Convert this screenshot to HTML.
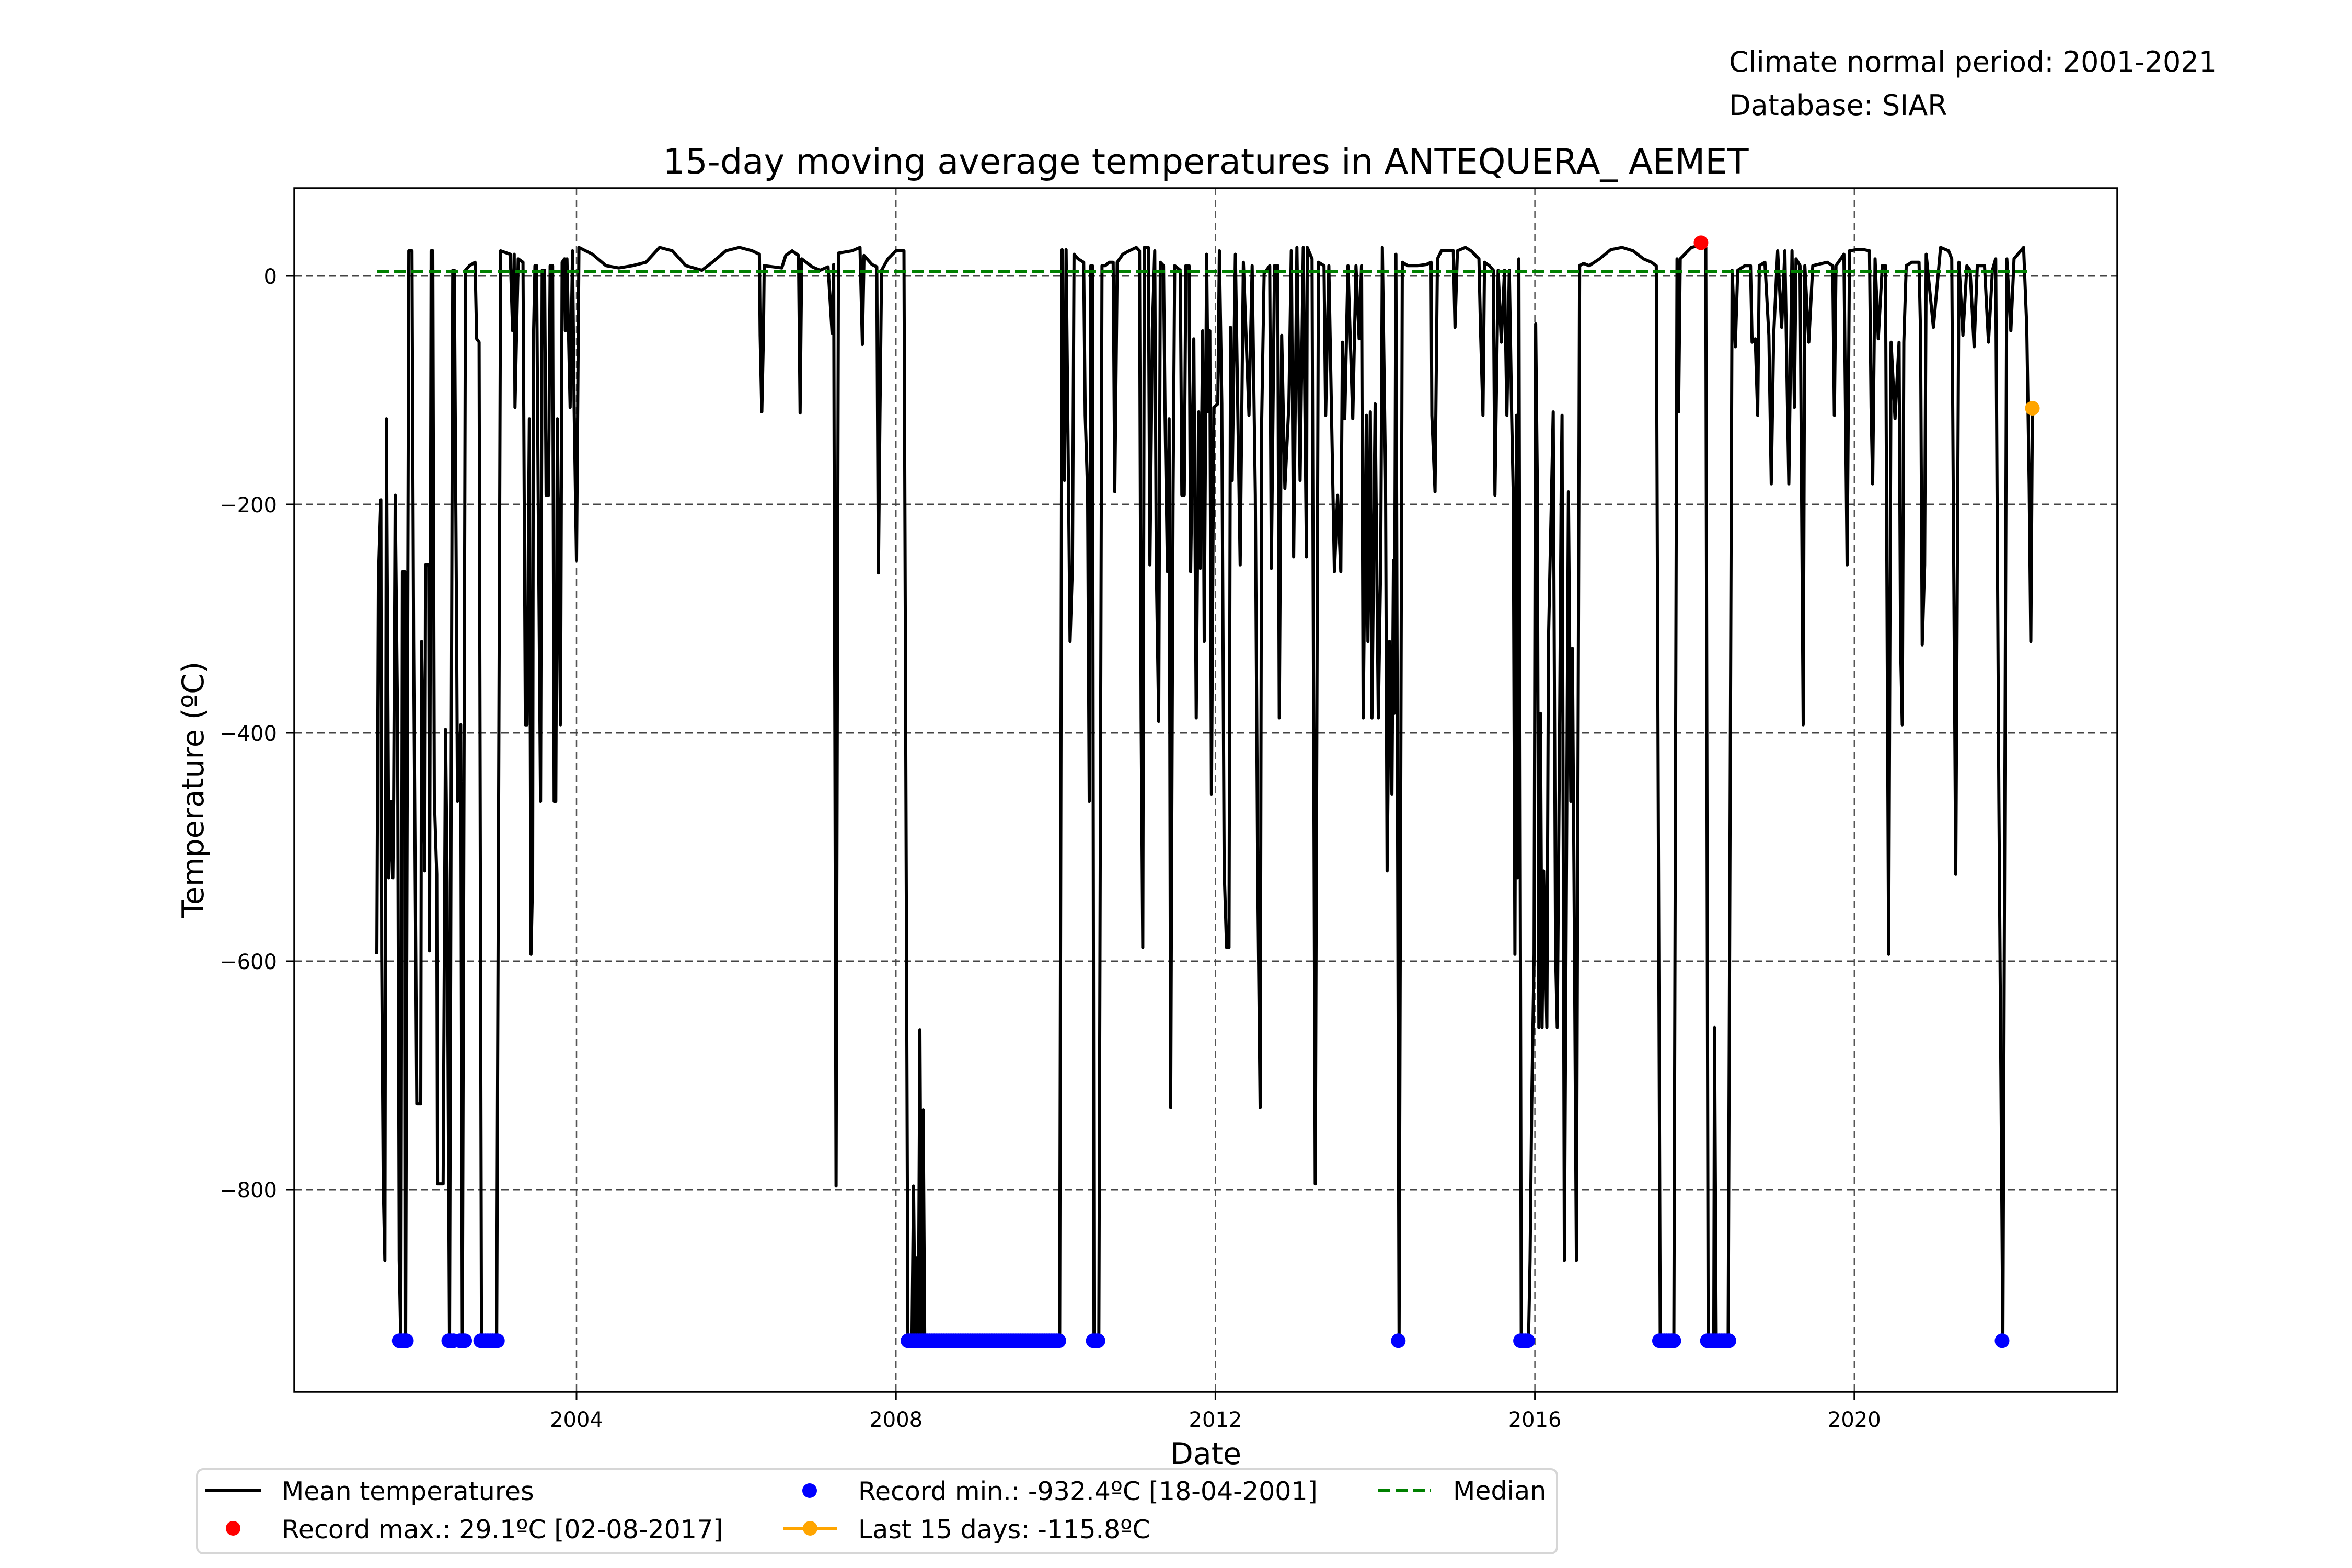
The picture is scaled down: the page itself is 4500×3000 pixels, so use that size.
<!DOCTYPE html>
<html><head><meta charset="utf-8"><style>
html,body{margin:0;padding:0;background:#fff;}
svg{display:block;font-family:"DejaVu Sans","Liberation Sans",sans-serif;}
</style></head><body>
<svg id="chart" width="4500" height="3000" viewBox="0 0 4500 3000" xmlns="http://www.w3.org/2000/svg">
<rect x="0" y="0" width="4500" height="3000" fill="#fff"/>
<text x="3308" y="137" font-size="54" fill="#000">Climate normal period: 2001-2021</text>
<text x="3308" y="220" font-size="54" fill="#000">Database: SIAR</text>
<text x="2307" y="332" font-size="67" text-anchor="middle" fill="#000">15-day moving average temperatures in ANTEQUERA_ AEMET</text>
<g id="grid"></g>
<g id="series"></g>
<rect x="563" y="360" width="3488" height="2303" fill="none" stroke="#000" stroke-width="3.5"/>
<g id="axes"></g>
<text x="2307" y="2801" font-size="57" text-anchor="middle">Date</text>
<text transform="translate(389,1511) rotate(-90)" font-size="57" text-anchor="middle">Temperature (ºC)</text>
<g>
<rect x="377" y="2811" width="2602" height="161" rx="12" fill="#fff" stroke="#d6d6d6" stroke-width="4"/>
<g>
<line x1="393" y1="2852" x2="499" y2="2852" stroke="#000" stroke-width="6"/>
<text x="539" y="2870" font-size="49">Mean temperatures</text></g>
<g>
<circle cx="446" cy="2924" r="14" fill="#ff0000"/>
<text x="539" y="2943" font-size="49">Record max.: 29.1ºC [02-08-2017]</text></g>
<g>
<circle cx="1549" cy="2852" r="14" fill="#0000ff"/>
<text x="1642" y="2870" font-size="49">Record min.: -932.4ºC [18-04-2001]</text></g>
<g>
<line x1="1499" y1="2924" x2="1601" y2="2924" stroke="#ffa500" stroke-width="6"/>
<circle cx="1550" cy="2924" r="14" fill="#ffa500"/>
<text x="1642" y="2943" font-size="49">Last 15 days: -115.8ºC</text></g>
<g>
<line x1="2637" y1="2851" x2="2737" y2="2851" stroke="#008000" stroke-width="6" stroke-dasharray="23,10"/>
<text x="2780" y="2869" font-size="49">Median</text></g>
</g>
</svg>
<script>
var xTickYears = [2004, 2008, 2012, 2016, 2020];
var xTickLabels = ["2004", "2008", "2012", "2016", "2020"];
var yTickValues = [0, -200, -400, -600, -800];
var yTickLabels = ["0", "\u2212200", "\u2212400", "\u2212600", "\u2212800"];
var medianValue = 3.7;
var medianRange = [2001.50, 2022.23];
var recordMaxDate = 2018.08;
var recordMaxValue = 29.1;
var recordMinValue = -932.4;
var lastDate = 2022.23;
var lastValue = -115.8;
var minRanges = [[2001.78,2001.87],[2002.40,2002.46],[2002.54,2002.60],[2002.80,2003.01],[2008.15,2010.06],[2010.47,2010.55],[2014.29,2014.31],[2015.82,2015.93],[2017.56,2017.75],[2018.16,2018.43],[2021.85,2021.87]];
var dates = [
2001.50,2001.52,2001.55,2001.56,2001.58,2001.60,2001.62,2001.65,2001.68,2001.70,
2001.71,2001.73,2001.76,2001.78,2001.80,2001.82,2001.85,2001.86,2001.90,2001.94,
2001.96,2001.98,2002.00,2002.05,2002.06,2002.10,2002.11,2002.15,2002.16,2002.18,
2002.20,2002.22,2002.25,2002.26,2002.33,2002.36,2002.38,2002.41,2002.45,2002.47,
2002.50,2002.51,2002.55,2002.57,2002.61,2002.66,2002.73,2002.75,2002.78,2002.81,
2003.00,2003.05,2003.17,2003.20,2003.22,2003.23,2003.25,2003.27,2003.33,2003.36,
2003.38,2003.41,2003.43,2003.45,2003.46,2003.48,2003.50,2003.52,2003.55,2003.57,
2003.60,2003.62,2003.65,2003.67,2003.70,2003.72,2003.74,2003.76,2003.78,2003.80,
2003.82,2003.85,2003.86,2003.88,2003.92,2003.95,2003.97,2004.00,
2004.03,2004.20,2004.37,2004.53,2004.70,2004.87,2005.04,2005.20,2005.37,2005.57,
2005.70,2005.87,2006.04,2006.20,2006.29,2006.30,2006.32,2006.34,2006.35,2006.57,
2006.62,2006.70,2006.78,2006.80,2006.82,2006.95,2007.05,2007.15,2007.20,2007.22,
2007.25,2007.28,2007.45,2007.55,2007.58,2007.60,2007.70,2007.76,2007.78,2007.80,
2007.82,2007.90,2008.00,2008.10,2008.15,2008.20,2008.22,2008.24,2008.26,2008.28,
2008.30,2008.32,2008.34,2008.36,2010.05,
2010.08,2010.11,2010.13,2010.16,2010.18,2010.21,2010.23,2010.28,2010.35,2010.37,
2010.40,2010.42,2010.44,2010.46,2010.48,2010.54,2010.58,2010.62,2010.67,2010.72,
2010.74,2010.77,2010.84,2010.92,2011.01,2011.05,2011.07,2011.09,2011.11,2011.16,
2011.18,2011.21,2011.24,2011.26,2011.29,2011.31,2011.35,2011.37,2011.40,2011.42,
2011.44,2011.47,2011.49,2011.56,2011.58,2011.61,2011.63,2011.67,2011.69,2011.73,
2011.76,2011.79,2011.81,2011.84,2011.86,2011.89,2011.91,2011.93,2011.95,2011.98,
2012.03,2012.05,2012.08,2012.11,2012.14,2012.17,2012.19,2012.21,2012.25,2012.31,
2012.35,2012.42,2012.46,2012.50,2012.53,2012.56,2012.58,2012.61,2012.68,2012.70,
2012.74,2012.78,2012.80,2012.83,2012.87,2012.92,2012.95,2012.98,2013.02,2013.06,
2013.10,2013.14,2013.15,2013.21,2013.25,2013.29,2013.36,2013.38,2013.42,2013.49,
2013.53,2013.57,2013.59,2013.62,2013.66,2013.72,2013.76,2013.80,2013.83,2013.85,
2013.89,2013.91,2013.94,2013.96,2014.00,2014.04,2014.07,2014.09,2014.13,2014.15,
2014.18,2014.21,2014.23,2014.24,2014.26,2014.30,2014.34,2014.41,2014.53,2014.64,
2014.70,2014.71,2014.75,2014.78,2014.83,2014.90,2014.98,2015.00,2015.03,2015.13,
2015.20,2015.30,2015.32,2015.35,2015.37,2015.43,2015.48,2015.50,2015.54,2015.58,
2015.62,2015.65,2015.68,2015.71,2015.73,2015.75,
2015.77,2015.78,2015.80,2015.83,2015.92,2015.94,2015.95,2015.96,2015.99,2016.01,
2016.03,2016.05,2016.07,2016.09,2016.11,2016.15,2016.17,2016.19,2016.21,2016.23,
2016.26,2016.28,2016.31,2016.33,2016.34,2016.37,2016.40,2016.42,2016.45,2016.47,
2016.49,2016.52,2016.56,2016.61,2016.68,2016.81,2016.95,2017.09,2017.23,2017.36,
2017.46,2017.52,2017.57,2017.74,2017.78,2017.80,2017.82,2017.96,2018.08,2018.14,
2018.17,2018.24,2018.25,2018.27,2018.42,2018.47,2018.51,2018.54,2018.63,2018.70,
2018.72,2018.76,2018.79,2018.81,2018.88,2018.93,2018.96,2018.99,2019.04,2019.09,
2019.13,2019.18,2019.22,2019.25,2019.27,2019.32,2019.36,2019.38,2019.43,2019.48,
2019.66,2019.73,2019.75,2019.77,2019.87,2019.91,2019.94,2020.03,2020.12,2020.19,
2020.21,2020.23,2020.26,2020.30,2020.35,2020.39,2020.43,2020.46,2020.51,2020.56,
2020.58,2020.60,2020.62,2020.65,2020.72,2020.81,2020.83,2020.85,2020.88,2020.90,
2020.99,2021.08,2021.18,2021.22,2021.27,2021.31,2021.36,2021.41,2021.45,2021.50,
2021.54,2021.63,2021.68,2021.73,2021.77,2021.81,2021.86,2021.91,2021.96,2022.00,
2022.12,2022.16,2022.19,2022.21,2022.23];
var temps = [
-594,-263,-196,-594,-795,-862,-125,-527,-460,-527,
-460,-192,-393,-862,-932.4,-259,-259,-932.4,22,22,
-320,-521,-725,-725,-320,-521,-253,-253,-591,22,
22,-457,-524,-795,-795,-397,-531,-932.4,5,5,
-326,-460,-393,-932.4,5,9,12,-55,-58,-932.4,
-932.4,22,19,-48,19,-115,-48,15,12,-393,
-393,-125,-594,-527,-58,9,9,-192,-460,5,
5,-192,-192,9,9,-460,-460,-125,-259,-393,
12,15,-48,15,-115,22,-112,-249,
25,19,9,7,9,12,25,22,9,5,
12,22,25,22,19,-52,-119,-52,9,7,
18,22,18,-120,15,8,5,8,-50,10,
-797,20,22,25,-60,18,10,8,-260,-120,
5,15,22,22,-932.4,-932.4,-797,-932.4,-860,-932.4,
-660,-932.4,-730,-932.4,-932.4,
23,-179,23,-179,-320,-253,19,15,12,-122,
-189,-460,9,9,-932.4,-932.4,9,9,12,12,
-189,12,19,22,25,22,-387,-588,25,25,
-253,-48,22,-253,-390,12,9,-122,-259,-125,
-728,-192,9,5,-192,-192,9,9,-259,-55,
-387,-119,-256,-48,-320,19,-119,-48,-454,-115,
-112,22,-112,-521,-588,-588,-45,-179,19,-253,
12,-122,9,-192,-527,-728,-125,2,9,-256,
9,9,-387,-52,-186,-112,22,-246,25,-179,
25,-246,25,15,-795,12,9,-122,9,-259,
-192,-259,-58,-125,9,-125,9,-55,9,-387,
-122,-320,-119,-387,-112,-387,-249,25,-179,-521,
-320,-454,-249,-383,19,-932.4,12,9,9,10,
12,-122,-189,15,22,22,22,-45,22,25,
22,15,-48,-122,12,9,5,-192,5,-58,
5,-122,5,-125,-192,-594,
-122,-527,15,-932.4,-932.4,-862,-795,-728,-594,-42,
-179,-658,-383,-658,-521,-658,-320,-253,-186,-119,
-594,-658,-393,-186,-122,-862,-460,-189,-460,-326,
-527,-862,9,11,9,15,23,25,22,15,
12,9,-932.4,-932.4,15,-119,15,25,27,25,
-932.4,-932.4,-658,-932.4,-932.4,5,-62,5,9,9,
-58,-55,-122,9,12,-52,-182,-52,22,-45,
22,-182,22,-115,15,9,-393,9,-58,9,
12,9,-122,9,19,-253,22,23,23,22,
-115,-182,15,-55,9,9,-594,-58,-125,-58,
-326,-393,-58,9,12,12,-52,-323,-253,19,
-45,25,22,15,-524,12,-52,9,5,-62,
9,9,-58,5,15,-460,-932.4,15,-48,15,
25,-45,-182,-320,-116];

var svgNS = "http://www.w3.org/2000/svg";
var X0 = 1103, PXY = 152.8, Y0 = 528, PXV = 2.185, L = 563, R = 4051, T = 360, B = 2663;
function xs(yr){ return X0 + (yr - 2004) * PXY; }
function ys(v){ return Y0 - v * PXV; }
function mk(tag, attrs, parent){ var e = document.createElementNS(svgNS, tag); for (var k in attrs) e.setAttribute(k, attrs[k]); parent.appendChild(e); return e; }
var grid = document.getElementById('grid'), series = document.getElementById('series'), axes = document.getElementById('axes');
xTickYears.forEach(function(yr, i){
  var gx = mk('line', {x1: xs(yr), x2: xs(yr), y1: T, y2: B, stroke: '#555', 'stroke-width': 2.5, 'stroke-dasharray': '14,8'}, grid);
  
  
  var tk = mk('line', {x1: xs(yr), x2: xs(yr), y1: B, y2: B + 15, stroke: '#000', 'stroke-width': 3}, axes);
  
  
  var tl = mk('text', {x: xs(yr), y: 2730, 'font-size': 40, 'text-anchor': 'middle'}, axes);
  tl.textContent = xTickLabels[i];
  
  
});
yTickValues.forEach(function(v, i){
  var gy = mk('line', {x1: L, x2: R, y1: ys(v), y2: ys(v), stroke: '#444', 'stroke-width': 3, 'stroke-dasharray': '14,8'}, grid);
  
  
  var tk = mk('line', {x1: L - 15, x2: L, y1: ys(v), y2: ys(v), stroke: '#000', 'stroke-width': 3}, axes);
  
  
  var tl = mk('text', {x: 530, y: ys(v) + 15, 'font-size': 40, 'text-anchor': 'end'}, axes);
  tl.textContent = yTickLabels[i];
  
  
});
var n = Math.min(dates.length, temps.length);
var pts = [];
for (var i = 0; i < n; i++) pts.push(xs(dates[i]).toFixed(1) + ',' + ys(temps[i]).toFixed(1));
var line = mk('polyline', {points: pts.join(' '), fill: 'none', stroke: '#000', 'stroke-width': 6, 'stroke-linejoin': 'round'}, series);


var med = mk('line', {x1: xs(medianRange[0]), x2: xs(medianRange[1]), y1: ys(medianValue), y2: ys(medianValue), stroke: '#008000', 'stroke-width': 6, 'stroke-dasharray': '23,10'}, series);


minRanges.forEach(function(r){
  for (var d = r[0]; d <= r[1] + 1e-9; d += 0.03) {
    var c = mk('circle', {cx: xs(d), cy: ys(recordMinValue), r: 14, fill: '#0000ff'}, series);
    
    
  }
});
var mx = mk('circle', {cx: xs(recordMaxDate), cy: ys(recordMaxValue), r: 14, fill: '#ff0000'}, series);


var lst = mk('circle', {cx: xs(lastDate), cy: ys(lastValue), r: 14, fill: '#ffa500'}, series);


</script>
</body></html>
